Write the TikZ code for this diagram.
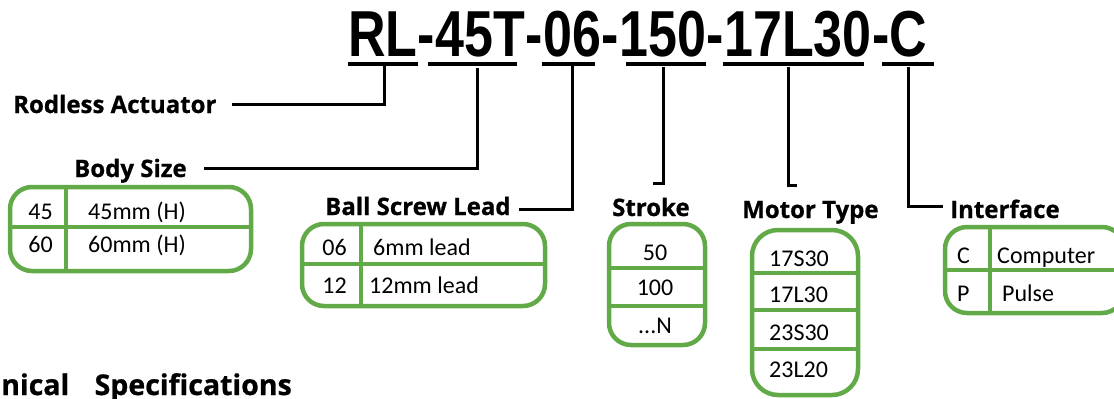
\documentclass[tikz,border=0pt]{standalone}
\usepackage{fontspec}
\usepackage{graphicx}
\setmainfont{Carlito}
\newfontfamily\lblfont{Open Sans}[BoldFeatures={FakeBold=0.8}]
\newfontfamily\ttlfont{Liberation Sans}
\definecolor{boxgreen}{RGB}{98,170,72}
\newcommand{\tsq}[1]{\scalebox{0.8}[1]{#1}}
\tikzset{
  ttl/.style={inner sep=0pt, anchor=base west, font=\ttlfont\bfseries\fontsize{65}{65}\selectfont},
  lbl/.style={inner sep=0pt, anchor=base west, font=\lblfont\bfseries\fontsize{24}{24}\selectfont},
  cell/.style={inner sep=0pt, font=\fontsize{24}{24}\selectfont},
  gbox/.style={draw=boxgreen, line width=4.5pt, rounded corners=22pt, inner sep=0pt},
  div/.style={draw=boxgreen, line width=4pt},
  uline/.style={draw=black, line width=3.2pt},
  conn/.style={draw=black, line width=3pt}
}
\begin{document}
\begin{tikzpicture}[x=1pt,y=-1pt]
\clip (0,0) rectangle (1114,399);
% title
\node[ttl] (tRL) at (348,56) {\tsq{RL}};
\node[ttl] (td1) at (tRL.base east) {\tsq{-}};
\node[ttl] (t45) at (td1.base east) {\tsq{45T}};
\node[ttl] (td2) at (t45.base east) {\tsq{-}};
\node[ttl] (t06) at (td2.base east) {\tsq{06}};
\node[ttl] (td3) at (t06.base east) {\tsq{-}};
\node[ttl] (t150) at (td3.base east) {\tsq{150}};
\node[ttl] (td4) at (t150.base east) {\tsq{-}};
\node[ttl] (t17) at (td4.base east) {\tsq{17L30}};
\node[ttl] (td5) at (t17.base east) {\tsq{-}};
\node[ttl] (tC) at (td5.base east) {\tsq{C}};
% underlines
\draw[uline] (348,64) -- (418,64);
\draw[uline] (428,64) -- (517,64);
\draw[uline] (542,64) -- (595,64);
\draw[uline] (626,64) -- (706,64);
\draw[uline] (723,64) -- (864,64);
\draw[uline] (882,64) -- (934,64);
% labels
\node[lbl] (rodless) at (13,113) {Rodless Actuator};
\node[lbl] (body) at (74,177) {Body Size};
\node[lbl] (ball) at (325,215) {Ball Screw Lead};
\node[lbl] (stroke) at (612,216) {Stroke};
\node[lbl] (motor) at (742,218) {Motor Type};
\node[lbl] (iface) at (950,218) {Interface};
\node[lbl, anchor=base east, font=\lblfont\bfseries\fontsize{28.5}{28.5}\selectfont] (tech) at (292,395) {Technical\hspace{18pt} Specifications};
% connectors
\coordinate (cRL) at (384,64);
\coordinate (c45) at (477,68);
\coordinate (c06) at (572,64);
\coordinate (c150) at (663,67);
\coordinate (c17) at (788,67);
\coordinate (cC) at (908,67);
\coordinate (f150) at (653,183);
\coordinate (f17) at (797,185);
\draw[conn] (cRL) |- ([xshift=15pt,yshift=9pt]rodless.base east);
\draw[conn] (c45) |- ([xshift=17pt,yshift=9pt]body.base east);
\draw[conn] (c06) |- ([xshift=8pt,yshift=6pt]ball.base east);
\draw[conn] (c150) |- (f150);
\draw[conn] (c17) |- (f17);
\draw[conn] (cC) |- ([xshift=-7pt,yshift=12pt]iface.base west);
% body size box
\node[gbox, minimum width=241pt, minimum height=84pt] (bodybox) at (130.5,229) {};
\draw[div] (bodybox.north -| 66,0) -- (bodybox.south -| 66,0);
\draw[div] (bodybox.west |- 0,227) -- (bodybox.east |- 0,227);
\node[cell, anchor=base east] (b45) at (53,219) {45};
\node[cell, anchor=base west] (b45t) at (88,219) {45mm (H)};
\node[cell, anchor=base east] (b60) at (53,252) {60};
\node[cell, anchor=base west] (b60t) at (88,252) {60mm (H)};
% ball screw box
\node[gbox, minimum width=243pt, minimum height=82pt] (ballbox) at (423.5,265) {};
\draw[div] (ballbox.north -| 361,0) -- (ballbox.south -| 361,0);
\draw[div] (ballbox.west |- 0,264) -- (ballbox.east |- 0,264);
\node[cell, anchor=base east] (l06) at (347,255) {06};
\node[cell, anchor=base west] (l06t) at (373,255) {6mm lead};
\node[cell, anchor=base east] (l12) at (347,293) {12};
\node[cell, anchor=base west] (l12t) at (369,293) {12mm lead};
% stroke box
\node[gbox, minimum width=96pt, minimum height=121pt] (strokebox) at (657,284.5) {};
\draw[div] (strokebox.west |- 0,268) -- (strokebox.east |- 0,268);
\draw[div] (strokebox.west |- 0,306) -- (strokebox.east |- 0,306);
\node[cell, anchor=base] (s50) at (655,260) {50};
\node[cell, anchor=base] (s100) at (655,295) {100};
\node[cell, anchor=base] (sN) at (655,333) {...N};
% motor box
\node[gbox, rounded corners=26pt, minimum width=106pt, minimum height=165pt] (motorbox) at (805,312.5) {};
\draw[div] (motorbox.west |- 0,273) -- (motorbox.east |- 0,273);
\draw[div] (motorbox.west |- 0,310) -- (motorbox.east |- 0,310);
\draw[div] (motorbox.west |- 0,349) -- (motorbox.east |- 0,349);
\node[cell, anchor=base west] (m1) at (769,266) {17S30};
\node[cell, anchor=base west] (m2) at (769,302) {17L30};
\node[cell, anchor=base west] (m3) at (769,340) {23S30};
\node[cell, anchor=base west] (m4) at (769,377) {23L20};
% interface box
\node[gbox, minimum width=179pt, minimum height=86pt] (ifbox) at (1034.5,270) {};
\draw[div] (ifbox.north -| 990,0) -- (ifbox.south -| 990,0);
\draw[div] (ifbox.west |- 0,270) -- (ifbox.east |- 0,270);
\node[cell, anchor=base west] (iC) at (957,263) {C};
\node[cell, anchor=base west] (iCt) at (997,263) {Computer};
\node[cell, anchor=base west] (iP) at (957,301) {P};
\node[cell, anchor=base west] (iPt) at (1002,301) {Pulse};
\end{tikzpicture}
\end{document}
